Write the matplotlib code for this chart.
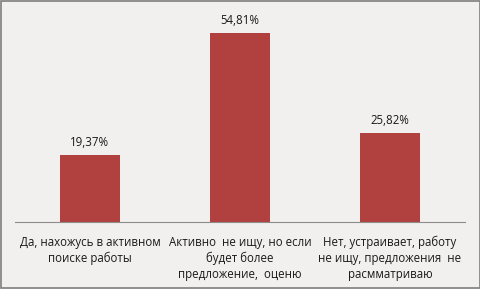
import matplotlib.pyplot as plt
from matplotlib.patches import Rectangle

categories = [
    "Да, нахожусь в активном\nпоиске работы",
    "Активно  не ищу, но если\nбудет более\nпредложение,  оценю",
    "Нет, устраивает, работу\nне ищу, предложения  не\nрасмматриваю",
]
values = [19.37, 54.81, 25.82]
labels = ["19,37%", "54,81%", "25,82%"]

bg = "#f2f0ee"
bar_color = "#b0413e"

plt.rcParams["font.family"] = ["Open Sans", "DejaVu Sans"]

fig = plt.figure(figsize=(4.81, 2.89), dpi=100, facecolor=bg)
ax = fig.add_axes([15 / 481, 67 / 289, 450 / 481, 212 / 289])
ax.set_facecolor(bg)

x = range(len(values))
bars = ax.bar(x, values, width=0.4, color=bar_color)
for xi, v, lab in zip(x, values, labels):
    ax.annotate(lab, (xi, v), xytext=(0, 4.5), textcoords="offset points",
                ha="center", va="bottom", fontsize=8.3, color="#1a1a1a")

ax.set_xlim(-0.5, 2.5)
ax.set_ylim(0, 212 / 3.448)
ax.set_xticks(list(x))
ax.set_xticklabels(categories, fontsize=8.3, color="#1a1a1a", linespacing=1.3)
ax.tick_params(axis="x", length=0, pad=10)
ax.set_yticks([])
for s in ["top", "left", "right"]:
    ax.spines[s].set_visible(False)
ax.spines["bottom"].set_color("#8c8c8c")
ax.spines["bottom"].set_linewidth(0.8)

# outer frame
fig.patches.append(Rectangle((0.002, 0.003), 0.996, 0.994, transform=fig.transFigure,
                             fill=False, edgecolor="#7f7f7f", linewidth=1.2))

fig.savefig("out.png", dpi=100, facecolor=bg)
